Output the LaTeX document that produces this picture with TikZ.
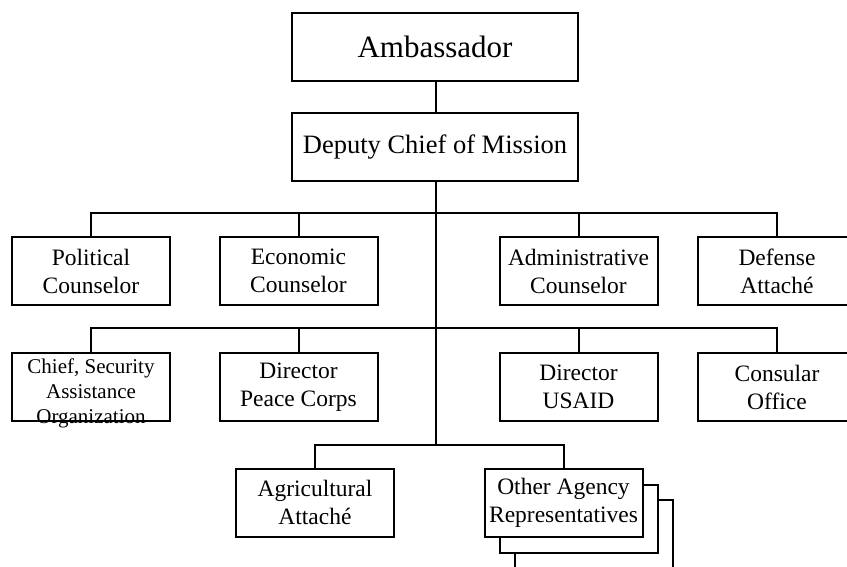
\documentclass[tikz,border=0pt]{standalone}
\usepackage{fontspec}
\setmainfont{Liberation Serif}

\begin{document}
\begin{tikzpicture}[x=1pt,y=-1pt,line width=2pt,
  post/.style={draw,fill=white,minimum width=158pt,minimum height=68pt,inner sep=0pt,align=center,
    font=\fontsize{23.5}{28}\selectfont}]
\clip (0,0) rectangle (847,566);
% top of the chain
\node[post,minimum width=286pt,font=\fontsize{31}{36}\selectfont] (amb) at (435,47) {Ambassador};
\node[post,minimum width=286pt,font=\fontsize{26.5}{30}\selectfont] (dcm) at (435,147) {Deputy Chief of Mission};
% first row
\node[post] (pol) at (91,271) {Political\\Counselor};
\node[post] (eco) at (298.5,271) {Economic\\Counselor};
\node[post] (adm) at (578.5,271) {Administrative\\Counselor};
\node[post] (def) at (777,271) {Defense\\Attach\'e};
% second row
\node[post] (sao) at (91,387) {};
\node[align=center,inner sep=0pt,font=\fontsize{21}{25}\selectfont] (saotxt) at ([yshift=-6pt]sao.center) {Chief, Security\\Assistance\\Organization};
\node[post] (pce) at (298.5,387) {Director\\Peace Corps};
\node[post] (aid) at (578.5,387) {Director\\USAID};
\node[post] (con) at (777,387) {Consular\\Office};
% third row
\node[post] (agr) at (315,502.5) {Agricultural\\Attach\'e};
\node[post] (oth2) at (594,533.5) {};
\node[post] (oth1) at (579,518.5) {};
\node[post] (oth) at (563.5,502.5) {Other Agency\\Representatives};
% junctions on the trunk
\coordinate (j1) at (436,213);
\coordinate (j2) at (436,328);
\coordinate (j3) at (436,445);
\draw (amb.south -| j1) -- (dcm.north -| j1);
\draw (dcm.south -| j1) -- (j3);
\draw (pol.north) |- (j1) -| (def.north);
\draw (eco.north) -- (eco.north |- j1);
\draw (adm.north) -- (adm.north |- j1);
\draw (sao.north) |- (j2) -| (con.north);
\draw (pce.north) -- (pce.north |- j2);
\draw (aid.north) -- (aid.north |- j2);
\draw (agr.north) |- (j3) -| (oth.north);
\end{tikzpicture}
\end{document}
